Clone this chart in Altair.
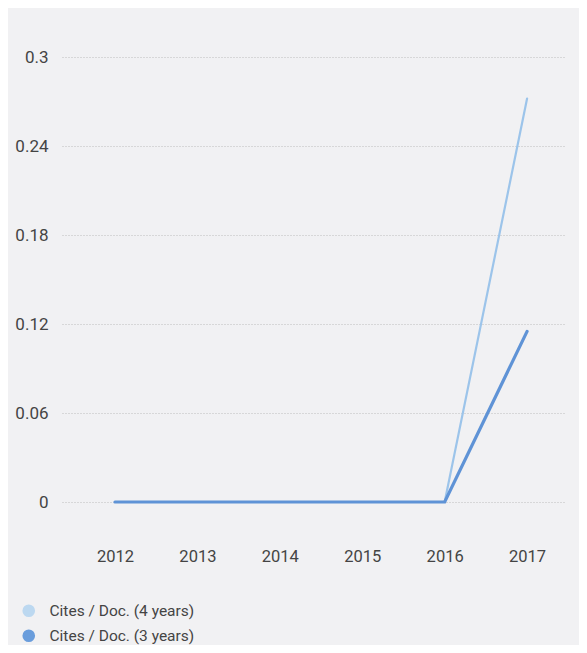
import altair as alt
import pandas as pd

years = [2012, 2013, 2014, 2015, 2016, 2017]
cites_4y = [0, 0, 0, 0, 0, 0.272]
cites_3y = [0, 0, 0, 0, 0, 0.115]
series = ["Cites / Doc. (4 years)", "Cites / Doc. (3 years)"]
colors = ["#9cc4ea", "#5f93d6"]
legend_colors = ["#bcd8f0", "#6a9ddc"]
y_ticks = [0, 0.06, 0.12, 0.18, 0.24, 0.3]

rows = []
for s, vals in zip(series, [cites_4y, cites_3y]):
    for y, v in zip(years, vals):
        rows.append({"year": y, "value": v, "series": s, "order": series.index(s)})
df = pd.DataFrame(rows)

x_enc = alt.X("year:Q",
              scale=alt.Scale(domain=[2011.357, 2017.46], nice=False, zero=False),
              axis=alt.Axis(values=years, format="d", title=None, grid=False,
                            domain=False, ticks=False, labelFontSize=16.5,
                            labelColor="#444", labelPadding=46,
                            labelFont="Roboto"))
y_enc = alt.Y("value:Q",
              scale=alt.Scale(domain=[0, 0.3], nice=False),
              axis=alt.Axis(values=y_ticks, format="~g", title=None,
                            domain=False, ticks=False, labelFontSize=17,
                            labelColor="#444", labelPadding=14,
                            labelFont="Roboto",
                            gridColor="#bdbdbd", gridDash=[1, 2], gridWidth=1))

base = alt.Chart(df)

legend_layer = base.mark_circle(opacity=0, size=0).encode(
    x=x_enc, y=y_enc,
    fill=alt.Fill("series:N", sort=series,
                  scale=alt.Scale(domain=series, range=legend_colors),
                  legend=alt.Legend(title=None, orient="none",
                                    legendX=-41, legendY=546,
                                    symbolType="circle", symbolSize=160,
                                    symbolStrokeWidth=0, symbolOpacity=1,
                                    labelFontSize=15.5, labelColor="#444",
                                    labelFont="Roboto", rowPadding=8,
                                    labelOffset=13, padding=0)),
)

lines = base.mark_line(strokeCap="round").encode(
    x=x_enc, y=y_enc,
    stroke=alt.Stroke("series:N", sort=series,
                      scale=alt.Scale(domain=series, range=colors),
                      legend=None),
    strokeWidth=alt.StrokeWidth("series:N", sort=series,
                                scale=alt.Scale(domain=series, range=[2.2, 3.2]),
                                legend=None),
    order=alt.Order("order:Q"),
    detail="series:N",
)

chart = alt.layer(legend_layer, lines).resolve_scale(
    stroke="independent", fill="independent"
).properties(
    width=503, height=445,
    background="#f1f1f3",
    padding={"left": 54, "top": 49, "right": 14, "bottom": 143},
    autosize=alt.AutoSizeParams(type="none"),
).configure_view(stroke=None)

chart.save("out.html", embed_options={"renderer": "svg", "actions": False})
